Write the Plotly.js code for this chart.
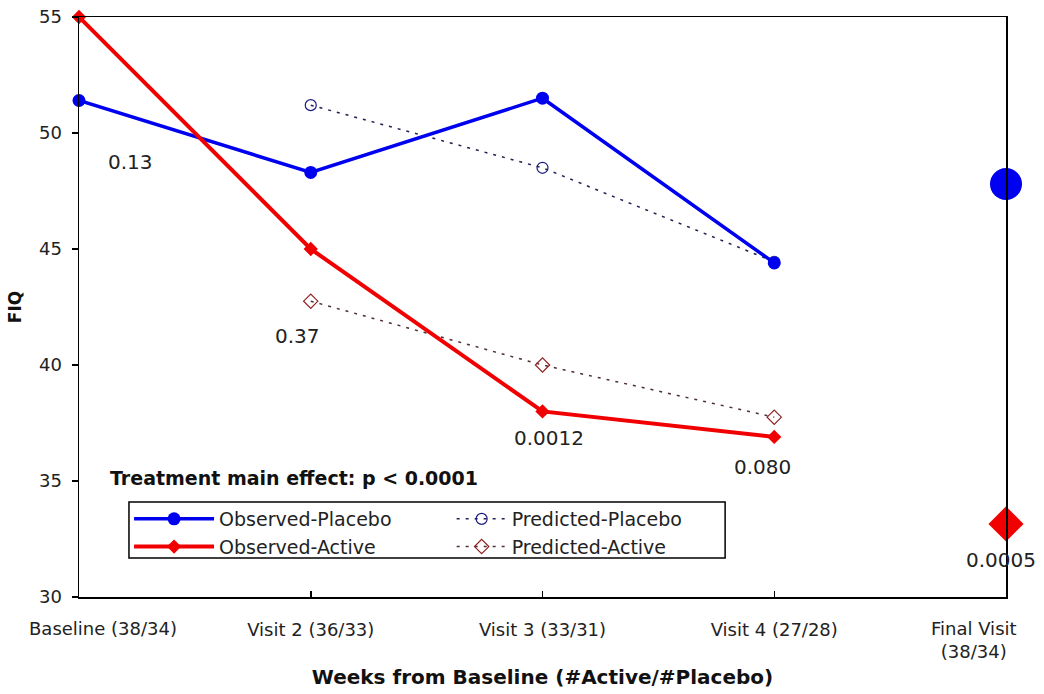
<!DOCTYPE html>
<html><head><meta charset="utf-8">
<script src="https://cdn.plot.ly/plotly-3.0.1.min.js"></script>
<style>html,body{margin:0;padding:0;background:#fff}</style>
</head><body><div id="chart" style="width:1044px;height:694px"></div>
<script>
// ---- data ----
const categories = ['Baseline (38/34)', 'Visit 2 (36/33)', 'Visit 3 (33/31)', 'Visit 4 (27/28)', 'Final Visit<br>(38/34)'];
const visitCats = categories.slice(0, 4);
const predCats = categories.slice(1, 4);
const finalCat = [categories[4]];
const observedPlacebo = [51.4, 48.3, 51.5, 44.4];
const observedActive = [55.0, 45.0, 38.0, 36.9];
const predictedPlacebo = [51.2, 48.5, 44.45];
const predictedActive = [42.75, 40.0, 37.75];
const finalPlacebo = [47.8];
const finalActive = [33.15];
const pLabels = ['0.13', '0.37', '0.0012', '0.080', '0.0005'];
const yTicks = [30, 35, 40, 45, 50, 55];
const effectText = 'Treatment main effect: p < 0.0001';

// ---- layout helpers ----
const pLabelPos = [[0.224, 48.75], [0.941, 41.25], [2.028, 36.85], [2.951, 35.6], [3.978, 31.6]];
const FONT = 'DejaVu Sans, Verdana, sans-serif';
const BLUE = '#0000f0', RED = '#f00000';
// edge category labels are drawn as annotations (shifted inwards like the original)
const edgeLabelX = [0.1036, 3.86];
const tickText = categories.map((c, i) => (i === 0 || i === categories.length - 1) ? '' : c);

const traces = [
  { x: predCats, y: predictedPlacebo, name: 'Predicted-Placebo', type: 'scatter', mode: 'lines+markers',
    line: { color: '#202050', width: 1.5, dash: '3px,6px' },
    marker: { symbol: 'circle-open', size: 11, color: '#1a1a80', line: { width: 1.2 } },
    cliponaxis: false, legend: 'legend2' },
  { x: predCats, y: predictedActive, name: 'Predicted-Active', type: 'scatter', mode: 'lines+markers',
    line: { color: '#503030', width: 1.5, dash: '3px,6px' },
    marker: { symbol: 'diamond-open', size: 11, color: '#902020', line: { width: 1.2 } },
    cliponaxis: false, legend: 'legend2' },
  { x: visitCats, y: observedPlacebo, name: 'Observed-Placebo', type: 'scatter', mode: 'lines+markers',
    line: { color: BLUE, width: 3.5 }, marker: { symbol: 'circle', size: 13, color: BLUE },
    cliponaxis: false, legend: 'legend' },
  { x: visitCats, y: observedActive, name: 'Observed-Active', type: 'scatter', mode: 'lines+markers',
    line: { color: RED, width: 4 }, marker: { symbol: 'diamond', size: 11, color: RED },
    cliponaxis: false, legend: 'legend' },
  { x: finalCat, y: finalPlacebo, name: 'Final Placebo', type: 'scatter', mode: 'markers',
    marker: { symbol: 'circle', size: 32, color: BLUE }, cliponaxis: false, showlegend: false },
  { x: finalCat, y: finalActive, name: 'Final Active', type: 'scatter', mode: 'markers',
    marker: { symbol: 'diamond', size: 27, color: RED }, cliponaxis: false, showlegend: false }
];

const annotations = pLabels.map((t, i) => ({
  x: pLabelPos[i][0], y: pLabelPos[i][1], xref: 'x', yref: 'y', text: t, showarrow: false,
  font: { family: FONT, size: 20, color: '#222' }, xanchor: 'center', yanchor: 'middle'
}));
annotations.push({
  x: 0.125, y: 35.15, xref: 'x', yref: 'y', text: '<b>' + effectText + '</b>', showarrow: false,
  font: { family: FONT, size: 19, color: '#111' }, xanchor: 'left', yanchor: 'middle'
});
[0, categories.length - 1].forEach((ci, k) => {
  annotations.push({
    x: edgeLabelX[k], y: 0, xref: 'x', yref: 'paper', text: categories[ci], showarrow: false,
    font: { family: FONT, size: 18, color: '#222' }, xanchor: 'center', yanchor: 'top', yshift: -19, align: 'center'
  });
});

const layout = {
  width: 1044, height: 694,
  margin: { l: 79, r: 38, t: 17, b: 97 },
  paper_bgcolor: '#fff', plot_bgcolor: '#fff',
  font: { family: FONT, color: '#222', size: 18 },
  showlegend: true,
  xaxis: {
    type: 'category', categoryorder: 'array', categoryarray: categories,
    tickvals: categories, ticktext: tickText,
    range: [0, 4], showgrid: false, zeroline: false,
    showline: true, linecolor: '#000', linewidth: 1.5, mirror: true,
    ticks: 'inside', ticklen: 6, tickcolor: '#000', tickwidth: 1.5,
    tickfont: { family: FONT, size: 18, color: '#222' }, ticklabelstandoff: 16,
    title: { text: '<b>Weeks from Baseline (#Active/#Placebo)</b>', font: { family: FONT, size: 20, color: '#111' }, standoff: 31 }
  },
  yaxis: {
    range: [30, 55], tickvals: yTicks, showgrid: false, zeroline: false,
    showline: true, linecolor: '#000', linewidth: 1.5, mirror: true,
    ticks: 'outside', ticklen: 6, tickcolor: '#000', tickwidth: 1.5,
    tickfont: { family: FONT, size: 18, color: '#222' }, ticklabelstandoff: 6,
    title: { text: '<b>FIQ</b>', font: { family: FONT, size: 17, color: '#111' }, standoff: 13 }
  },
  shapes: [{
    type: 'rect', xref: 'paper', yref: 'paper', x0: 0.0539, x1: 0.697, y0: 0.0672, y1: 0.1638,
    line: { color: '#000', width: 1.5 }, fillcolor: '#fff', layer: 'above'
  }],
  legend: {
    x: 0.054, y: 0.1672, xanchor: 'left', yanchor: 'top', orientation: 'v',
    bgcolor: 'rgba(0,0,0,0)', borderwidth: 0,
    font: { family: FONT, size: 19, color: '#222' }, itemwidth: 80, tracegroupgap: 0
  },
  legend2: {
    x: 0.402, y: 0.1672, xanchor: 'left', yanchor: 'top', orientation: 'v',
    bgcolor: 'rgba(0,0,0,0)', borderwidth: 0,
    font: { family: FONT, size: 19, color: '#222' }, itemwidth: 50, tracegroupgap: 0
  },
  annotations: annotations
};

Plotly.newPlot('chart', traces, layout, { displayModeBar: false, staticPlot: true });
</script>
</body></html>
